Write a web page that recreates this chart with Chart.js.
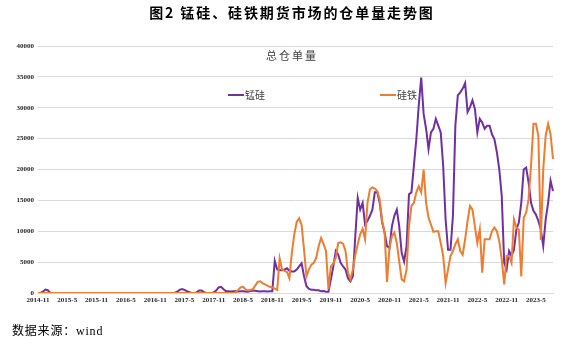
<!DOCTYPE html>
<html lang="zh-CN">
<head>
<meta charset="utf-8">
<title>锰硅、硅铁期货市场的仓单量走势图</title>
<script src="https://cdn.jsdelivr.net/npm/chart.js@4.4.1/dist/chart.umd.min.js"></script>
<style>
  html, body { margin: 0; padding: 0; background: #fff; }
  body { width: 584px; height: 347px; position: relative; overflow: hidden; }
  #fig-title {
    position: absolute; left: 0; top: 2px; width: 584px; text-align: center;
    font: bold 14px "Noto Sans CJK SC", serif; letter-spacing: 1.9px; color: #000;
  }
  #chart-box { position: absolute; left: 0; top: 0; width: 584px; height: 347px; }
  #source {
    position: absolute; left: 12px; top: 321px;
    font: 12px "Liberation Serif", "Noto Sans CJK SC", serif; letter-spacing: 0.8px; color: #000;
  }
</style>
</head>
<body>
<div id="chart-box"><canvas id="stockChart" width="584" height="347"></canvas></div>
<div id="fig-title">图2 锰硅、硅铁期货市场的仓单量走势图</div>
<div id="source">数据来源：wind</div>

<script>
// half-month samples starting 2014-11 (index 0) through 2023-08
const tickLabels = ['2014-11', '2015-5', '2015-11', '2016-5', '2016-11', '2017-5', '2017-11', '2018-5',
  '2018-11', '2019-5', '2019-11', '2020-5', '2020-11', '2021-5', '2021-11', '2022-5', '2022-11', '2023-5'];

const seriesNames = ['锰硅', '硅铁'];
const chartTitle = '总仓单量';

// 锰硅 warehouse receipts
const mnSi = [
  0, 0, 200, 550, 450, 50, 0, 0, 0, 0, 0, 0,
  0, 0, 0, 0, 0, 0, 0, 0, 0, 0, 0, 0,
  0, 0, 0, 0, 0, 0, 0, 0, 0, 0, 0, 0,
  0, 0, 0, 0, 0, 0, 0, 0, 0, 0, 0, 0,
  0, 0, 0, 0, 0, 0, 0, 0, 0, 200, 500, 650,
  500, 300, 150, 0, 0, 100, 400, 400, 150, 0, 0, 0,
  100, 400, 900, 1000, 600, 300, 300, 250, 300, 300, 250, 300,
  300, 250, 200, 300, 400, 350, 300, 250, 300, 300, 250, 300,
  300, 5200, 3800, 3700, 3700, 3800, 4000, 3600, 3500, 3500, 3800, 4300,
  4800, 2700, 1100, 650, 540, 540, 430, 430, 270, 320, 200, 200,
  2200, 4300, 6800, 6200, 4900, 4300, 3800, 2400, 1900, 2700, 9200, 15400,
  13500, 14600, 11100, 11700, 12500, 13500, 16300, 16300, 14600, 11400, 9800, 7600,
  7300, 10800, 12500, 13500, 10800, 6500, 5100, 7600, 16000, 16300, 20600, 24900,
  30400, 34900, 29000, 26600, 23300, 26000, 26600, 28200, 27100, 26000, 20600, 11900,
  7000, 7000, 12500, 27100, 32000, 32500, 33100, 34000, 29300, 30100, 31200, 29800,
  26000, 28200, 27600, 26600, 27100, 27100, 25700, 24900, 22800, 20000, 15700, 4900,
  3800, 6800, 6000, 7000, 10300, 11400, 14600, 20000, 20300, 17900, 14600, 13300,
  12700, 11700, 10300, 7600, 11900, 14600, 18200, 16500
];

// 硅铁 warehouse receipts
const siFe = [
  0, 0, 0, 0, 0, 0, 0, 0, 0, 0, 0, 0,
  0, 0, 0, 0, 0, 0, 0, 0, 0, 0, 0, 0,
  0, 0, 0, 0, 0, 0, 0, 0, 0, 0, 0, 0,
  0, 0, 0, 0, 0, 0, 0, 0, 0, 0, 0, 0,
  0, 0, 0, 0, 0, 0, 0, 0, 0, 0, 0, 0,
  0, 0, 0, 0, 0, 0, 0, 0, 0, 0, 0, 0,
  0, 0, 0, 0, 0, 0, 0, 0, 0, 100, 500, 900,
  1000, 600, 400, 500, 600, 1200, 1800, 1900, 1600, 1400, 1200, 1000,
  900, 700, 500, 5600, 3800, 3600, 3400, 2400, 6500, 9500, 11500, 12100,
  11000, 7000, 2700, 3800, 4600, 4900, 5700, 7600, 8900, 7900, 6800, 600,
  4300, 4800, 5700, 8100, 8200, 8000, 6800, 3300, 2200, 3800, 6200, 7900,
  9500, 10400, 8700, 14600, 16800, 17100, 16900, 16500, 15200, 11700, 9800, 1800,
  7300, 9200, 9800, 8100, 5100, 2200, 1900, 3800, 10800, 14100, 14600, 16300,
  17300, 16300, 20000, 14600, 12200, 11100, 9900, 10000, 10000, 8100, 6000, 1600,
  3800, 6000, 6800, 7900, 8700, 6800, 6200, 8700, 11700, 14100, 13500, 10800,
  8100, 10300, 3300, 8700, 8700, 8700, 10000, 10600, 10000, 8400, 5400, 1400,
  6000, 6000, 4900, 11900, 10600, 10300, 2700, 12200, 13000, 15200, 20600, 27400,
  27400, 25500, 8600, 20000, 25500, 27400, 25700, 21700
];

// category labels: year-month plus first/second half
const categories = mnSi.map((_, i) => {
  const m = 10 + Math.floor(i / 2);
  return `${2014 + Math.floor(m / 12)}-${(m % 12) + 1}${i % 2 ? '下' : '上'}`;
});

const tickFont = { family: '"Liberation Serif", serif', size: 7, weight: 'bold' };

// inner title and legend drawn on top of the plot area
const overlayText = {
  id: 'overlayText',
  afterDatasetsDraw(chart) {
    const { ctx, chartArea } = chart;
    ctx.save();
    ctx.textBaseline = 'middle';

    ctx.fillStyle = '#404040';
    ctx.font = '11px "Noto Sans CJK SC"';
    ctx.letterSpacing = '2px';
    ctx.textAlign = 'center';
    ctx.fillText(chartTitle, 292, chartArea.top + 10);

    ctx.letterSpacing = '0px';
    ctx.textAlign = 'left';
    ctx.font = '10px "Noto Sans CJK SC"';
    const legendX = [228, 380];
    chart.data.datasets.forEach((ds, i) => {
      const x = legendX[i];
      const y = chartArea.top + 49;
      ctx.strokeStyle = ds.borderColor;
      ctx.lineWidth = 2;
      ctx.beginPath();
      ctx.moveTo(x, y);
      ctx.lineTo(x + 16, y);
      ctx.stroke();
      ctx.fillStyle = '#404040';
      ctx.fillText(ds.label, x + 17, y);
    });
    ctx.restore();
  }
};

new Chart(document.getElementById('stockChart'), {
  type: 'line',
  data: {
    labels: categories,
    datasets: [
      {
        label: seriesNames[0],
        data: mnSi,
        borderColor: '#7030A0',
        borderWidth: 2,
        pointRadius: 0,
        tension: 0,
        order: 1
      },
      {
        label: seriesNames[1],
        data: siFe,
        borderColor: '#ED7D31',
        borderWidth: 2,
        pointRadius: 0,
        tension: 0,
        order: 0
      }
    ]
  },
  options: {
    responsive: false,
    animation: false,
    layout: { padding: { top: 46, right: 31, bottom: 34, left: 0 } },
    plugins: {
      legend: { display: false },
      tooltip: { enabled: false }
    },
    scales: {
      x: {
        grid: { display: false, drawTicks: false },
        border: { color: '#d9d9d9' },
        ticks: {
          autoSkip: false,
          maxRotation: 0,
          padding: 3,
          color: '#262626',
          font: tickFont,
          callback: (v, i) => (i % 12 === 0 ? tickLabels[i / 12] : '')
        },
        afterFit: (scale) => { scale.height = 20; }
      },
      y: {
        min: 0,
        max: 40000,
        ticks: {
          stepSize: 5000,
          padding: 4,
          color: '#262626',
          font: tickFont,
          callback: (v) => String(v)
        },
        grid: { color: '#d9d9d9', drawTicks: false },
        border: { display: false },
        afterFit: (scale) => { scale.width = 38; }
      }
    }
  },
  plugins: [overlayText]
});
</script>
</body>
</html>
